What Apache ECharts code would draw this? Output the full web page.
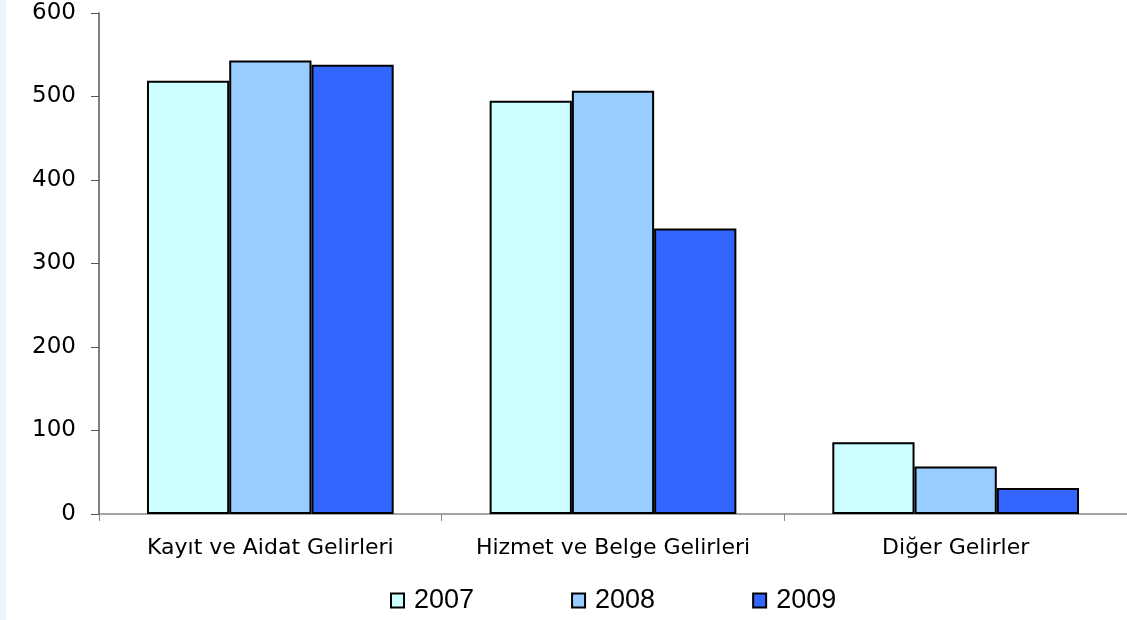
<!DOCTYPE html>
<html>
<head>
<meta charset="utf-8">
<script src="https://cdn.jsdelivr.net/npm/echarts@6/dist/echarts.min.js"></script>
<style>
  html, body { margin: 0; padding: 0; background: #fff; }
  #chart { width: 1127px; height: 620px; }
</style>
</head>
<body>
<div id="chart"></div>
<script>
var categories = ['Kayıt ve Aidat Gelirleri', 'Hizmet ve Belge Gelirleri', 'Diğer Gelirler'];
var years = ['2007', '2008', '2009'];
var values2007 = [519, 495, 86];
var values2008 = [543, 507, 57];
var values2009 = [538, 342, 31];
var colors = ['#CCFFFF', '#99CCFF', '#3366FF'];

var font = '"DejaVu Sans", Verdana, sans-serif';
var seriesData = [values2007, values2008, values2009];

var chart = echarts.init(document.getElementById('chart'));
var option = {
  animation: false,
  backgroundColor: '#ffffff',
  graphic: [{
    type: 'rect',
    left: 0, top: 0,
    shape: { width: 6, height: 620 },
    style: { fill: '#eef5fb' },
    silent: true
  }],
  grid: { left: 99, right: -6, top: 13, bottom: 106 },
  legend: {
    left: 390,
    top: 587,
    padding: 0,
    itemWidth: 13,
    itemHeight: 14,
    itemGap: 97,
    icon: 'rect',
    textStyle: { fontFamily: '"Liberation Sans", Arial, sans-serif', fontSize: 27, color: '#000', padding: [0, 0, 0, 5] },
    data: years
  },
  xAxis: {
    type: 'category',
    data: categories,
    axisLine: { lineStyle: { color: '#888', width: 1.5 } },
    axisTick: { show: true, length: 7, lineStyle: { color: '#888' } },
    axisLabel: { interval: 0, fontFamily: font, fontSize: 22, color: '#000', margin: 23 }
  },
  yAxis: {
    type: 'value',
    min: 0,
    max: 600,
    interval: 100,
    splitLine: { show: false },
    axisLine: { show: true, lineStyle: { color: '#555', width: 1.5 } },
    axisTick: { show: true, length: 8, lineStyle: { color: '#555' } },
    axisLabel: { fontFamily: font, fontSize: 23, color: '#000', margin: 23 }
  },
  series: years.map(function (y, i) {
    return {
      name: y,
      type: 'bar',
      data: seriesData[i],
      barGap: '0%',
      barCategoryGap: '28%',
      itemStyle: { color: colors[i], borderColor: '#000', borderWidth: 2 }
    };
  })
};
chart.setOption(option);
</script>
</body>
</html>
